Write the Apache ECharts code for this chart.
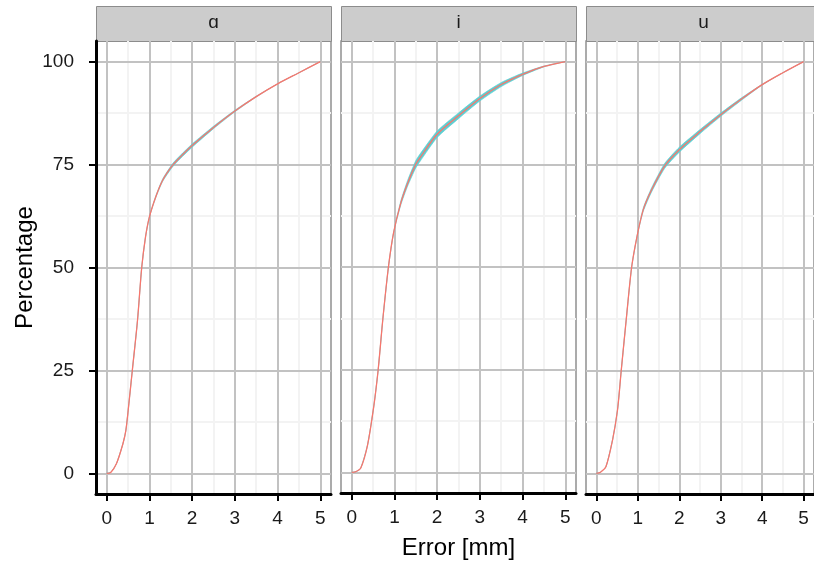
<!DOCTYPE html>
<html><head><meta charset="utf-8">
<script src="https://cdn.jsdelivr.net/npm/echarts@6/dist/echarts.min.js"></script>
<style>html,body{margin:0;padding:0;background:#fff}#c{width:814px;height:565px}</style>
</head><body><div id="c"></div>
<script>
// ---- data ----
const panels = ['ɑ', 'i', 'u'];
const xTicks = [0, 1, 2, 3, 4, 5];
const yTicks = [0, 25, 50, 75, 100];
const xMinor = [0.5, 1.5, 2.5, 3.5, 4.5];
const yMinor = [12.5, 37.5, 62.5, 87.5];

// panel ɑ
const a_x       = [0, 0.1, 0.23, 0.38, 0.45, 0.52, 0.6, 0.72, 0.82, 0.91, 1.0, 1.15, 1.31, 1.54, 1.72, 2, 2.5, 3, 3.5, 4, 4.5, 5];
const a_red     = [0, 0.3, 2.4, 7.2, 10.5, 17, 25, 37, 50, 57.5, 62.3, 67.2, 71.2, 74.8, 76.8, 79.6, 84, 88, 91.5, 94.6, 97.3, 100];
const a_cyanHi  = [0, 0.3, 2.4, 7.2, 10.5, 17, 25, 37, 50, 57.5, 62.3, 67.4, 71.5, 75.2, 77.2, 80.0, 84.3, 88.2, 91.6, 94.6, 97.3, 100];
const a_cyanLo  = [0, 0.3, 2.4, 7.2, 10.5, 17, 25, 37, 50, 57.5, 62.3, 67.0, 70.9, 74.4, 76.4, 79.2, 83.7, 87.8, 91.4, 94.6, 97.3, 100];

// panel i
const i_x       = [0, 0.1, 0.21, 0.37, 0.52, 0.62, 0.73, 0.86, 0.98, 1.15, 1.31, 1.5, 1.6, 2, 2.5, 3, 3.5, 4, 4.5, 5];
const i_red     = [0, 0.2, 1, 6.6, 16.3, 25, 37.4, 50, 58.3, 65.6, 70.4, 75, 76.6, 82.3, 86.8, 91, 94.4, 96.9, 98.8, 100];
const i_cyanHi  = [0, 0.2, 1, 6.6, 16.3, 25, 37.4, 50, 58.3, 66.1, 71.1, 75.9, 77.5, 83.1, 87.5, 91.6, 94.9, 97.2, 98.9, 100];
const i_cyanLo  = [0, 0.2, 1, 6.6, 16.3, 25, 37.4, 50, 58.3, 65.1, 69.7, 74.1, 75.7, 81.5, 86.1, 90.4, 93.9, 96.6, 98.7, 100];

// panel u
const u_x       = [0, 0.1, 0.23, 0.39, 0.51, 0.6, 0.72, 0.85, 0.98, 1.13, 1.33, 1.65, 2, 2.5, 3, 3.5, 4, 4.5, 5];
const u_red     = [0, 0.3, 1.6, 8.1, 15.4, 25, 37.3, 50, 57.5, 64, 68.8, 74.7, 78.6, 83, 87.1, 90.9, 94.4, 97.3, 100];
const u_cyanHi  = [0, 0.3, 1.6, 8.1, 15.4, 25, 37.3, 50, 57.5, 64.4, 69.3, 75.3, 79.2, 83.5, 87.5, 91.2, 94.5, 97.3, 100];
const u_cyanLo  = [0, 0.3, 1.6, 8.1, 15.4, 25, 37.3, 50, 57.5, 63.6, 68.3, 74.1, 78.0, 82.5, 86.7, 90.6, 94.3, 97.3, 100];

const redSets  = [[a_x, a_red], [i_x, i_red], [u_x, u_red]];
const cyanSets = [[a_x, a_cyanHi, a_cyanLo], [i_x, i_cyanHi, i_cyanLo], [u_x, u_cyanHi, u_cyanLo]];

// ---- layout ----
const lefts = [96, 341, 586];
const PW = 235, PT = 41, PH = 453;
const FONT = 'Liberation Sans, Arial, sans-serif';
const CYAN = '#5CCFD2';

const pairs = (xs, ys) => xs.map((x, k) => [x, ys[k]]);

const grids = [], xAxes = [], yAxes = [], series = [], graphics = [];
lefts.forEach((L, g) => {
  grids.push({left: L, top: PT, width: PW, height: PH, show: true,
    backgroundColor: '#fff', borderColor: '#7F7F7F', borderWidth: 1.3, containLabel: false});
  xAxes.push({type: 'value', gridIndex: g, min: -0.25, max: 5.25, z: 6,
    axisLine: {show: true, onZero: false, lineStyle: {color: '#000', width: 3}},
    axisTick: {show: true, customValues: xTicks, length: 7, lineStyle: {color: '#000', width: 2}},
    axisLabel: {show: true, customValues: xTicks, color: '#1a1a1a', fontSize: 19, margin: 15, fontFamily: FONT},
    splitLine: {show: false},
    name: g === 1 ? 'Error [mm]' : '', nameLocation: 'middle', nameGap: 43,
    nameTextStyle: {fontSize: 24, color: '#000', fontFamily: FONT}});
  yAxes.push({type: 'value', gridIndex: g, min: -5, max: 105, z: 6,
    axisLine: {show: g === 0, onZero: false, lineStyle: {color: '#000', width: 3}},
    axisTick: {show: g === 0, customValues: yTicks, length: 7, lineStyle: {color: '#000', width: 2}},
    axisLabel: {show: g === 0, customValues: yTicks, color: '#1a1a1a', fontSize: 19, margin: 22, fontFamily: FONT},
    splitLine: {show: false},
    name: g === 0 ? 'Percentage' : '', nameLocation: 'middle', nameGap: 59, nameRotate: 90,
    nameTextStyle: {fontSize: 24, color: '#000', fontFamily: FONT}});

  const ml = (xs, ys, color, z) => ({z: z, silent: true, symbol: ['none', 'none'], animation: false,
    label: {show: false}, emphasis: {disabled: true}, lineStyle: {color: color, width: 2, type: 'solid'},
    data: xs.map(v => ({xAxis: v})).concat(ys.map(v => ({yAxis: v})))});
  series.push({type: 'line', xAxisIndex: g, yAxisIndex: g, data: [], z: 1,
    markLine: ml(xMinor, yMinor, '#F3F3F3', 1)});
  series.push({type: 'line', xAxisIndex: g, yAxisIndex: g, data: [], z: 1,
    markLine: ml(xTicks, yTicks, '#C2C2C2', 2)});

  // cyan ribbon between lower and upper cyan curves (polygon through axis scales)
  const xs = cyanSets[g][0], hi = cyanSets[g][1], lo = cyanSets[g][2];
  series.push({type: 'custom', xAxisIndex: g, yAxisIndex: g, z: 3, silent: true, animation: false,
    data: xs.map((x, k) => [x, lo[k], hi[k]]),
    renderItem: function (params, api) {
      if (params.dataIndex !== 0) return null;
      const top = xs.map((x, k) => api.coord([x, hi[k]]));
      const bot = xs.map((x, k) => api.coord([x, lo[k]])).reverse();
      return {type: 'polygon', shape: {points: top.concat(bot), smooth: 0.2},
        style: {fill: CYAN, stroke: CYAN, lineWidth: 0.6}};
    }});

  series.push({type: 'line', xAxisIndex: g, yAxisIndex: g, z: 4, showSymbol: false,
    smooth: 0.3, animation: false, silent: true,
    lineStyle: {color: '#F8766D', width: 1.3},
    data: pairs(redSets[g][0], redSets[g][1])});

  graphics.push({type: 'rect', left: L, top: 6, shape: {width: PW, height: 35},
    style: {fill: '#CCCCCC', stroke: '#8C8C8C', lineWidth: 1}});
  graphics.push({type: 'text', x: L + PW / 2, y: 23,
    style: {text: panels[g], fill: '#1a1a1a', fontSize: 19, fontFamily: FONT,
      align: 'center', verticalAlign: 'middle'}});
});

const chart = echarts.init(document.getElementById('c'), null, {renderer: 'canvas'});
chart.setOption({
  animation: false,
  backgroundColor: '#fff',
  grid: grids, xAxis: xAxes, yAxis: yAxes, series: series, graphic: graphics
});
</script></body></html>
